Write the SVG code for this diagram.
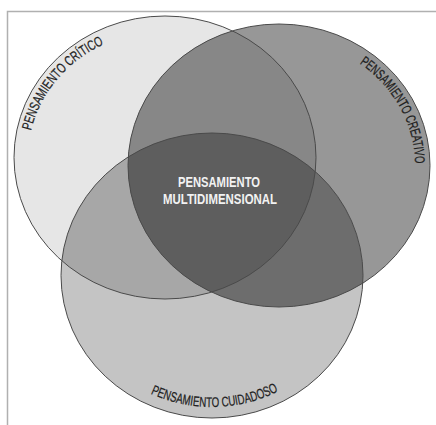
<svg xmlns="http://www.w3.org/2000/svg" xmlns:xlink="http://www.w3.org/1999/xlink" width="436" height="425" viewBox="0 0 436 425">
<style>
.frame{stroke:#b0b0b0;stroke-width:1.5;fill:none}
.edge{fill:none;stroke:#4a4a4a;stroke-width:1}
.lbl{font-family:"Liberation Sans",Arial,sans-serif;font-size:14px;fill:#1e1e1e;stroke:#1e1e1e;stroke-width:0.25}
.mid{font-family:"Liberation Sans",Arial,sans-serif;font-size:14px;font-weight:bold;fill:#f2f2f2;text-anchor:middle}
</style>
<defs>
<ellipse id="eA" cx="165" cy="157.5" rx="151" ry="141.5"/>
<ellipse id="eB" cx="279" cy="165.5" rx="151" ry="141.5"/>
<ellipse id="eC" cx="212" cy="275.5" rx="151" ry="142.5"/>
<clipPath id="cA"><use xlink:href="#eA"/></clipPath>
<clipPath id="cB"><use xlink:href="#eB"/></clipPath>
<path id="pA" d="M 31 130.8 A 136 126.5 0 0 1 104.5 44"/>
<path id="pB" d="M 359.5 63.5 A 136 126.5 0 0 1 415 161"/>
<path id="pC" d="M 150.6 393.7 A 140 131.5 0 0 0 286.2 387"/>
</defs>
<rect width="436" height="425" fill="#ffffff"/>
<path class="frame" d="M 7.5 425 L 7.5 11.5 L 436 11.5"/>
<g id="regions">
<use xlink:href="#eA" fill="#e6e6e6"/>
<use xlink:href="#eB" fill="#979797"/>
<use xlink:href="#eC" fill="#c4c4c4"/>
<use xlink:href="#eB" fill="#878787" clip-path="url(#cA)"/>
<use xlink:href="#eC" fill="#a7a7a7" clip-path="url(#cA)"/>
<use xlink:href="#eC" fill="#6d6d6d" clip-path="url(#cB)"/>
<g clip-path="url(#cB)"><use xlink:href="#eC" fill="#5e5e5e" clip-path="url(#cA)"/></g>
</g>
<g id="critico">
<use xlink:href="#eA" class="edge"/>
<text class="lbl"><textPath xlink:href="#pA" textLength="117" lengthAdjust="spacingAndGlyphs">PENSAMIENTO CRÍTICO</textPath></text>
</g>
<g id="creativo">
<use xlink:href="#eB" class="edge"/>
<text class="lbl"><textPath xlink:href="#pB" textLength="119" lengthAdjust="spacingAndGlyphs">PENSAMIENTO CREATIVO</textPath></text>
</g>
<g id="cuidadoso">
<use xlink:href="#eC" class="edge"/>
<text class="lbl"><textPath xlink:href="#pC" textLength="132" lengthAdjust="spacingAndGlyphs">PENSAMIENTO CUIDADOSO</textPath></text>
</g>
<g id="multidimensional">
<text class="mid" x="219" y="187" textLength="82" lengthAdjust="spacingAndGlyphs">PENSAMIENTO</text>
<text class="mid" x="220" y="204" textLength="114" lengthAdjust="spacingAndGlyphs">MULTIDIMENSIONAL</text>
</g>
</svg>
